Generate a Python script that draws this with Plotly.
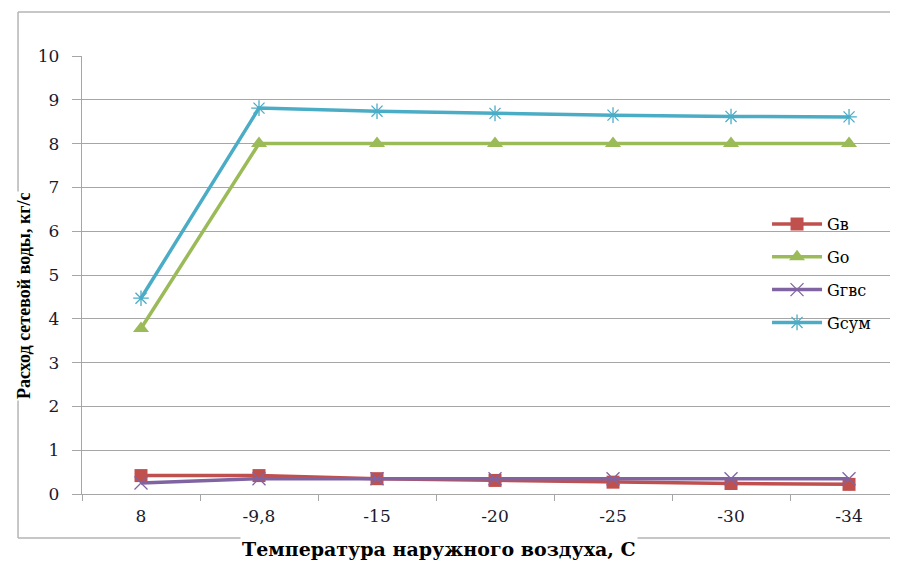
import plotly.graph_objects as go

categories = ["8", "-9,8", "-15", "-20", "-25", "-30", "-34"]
g_v = [0.42, 0.42, 0.35, 0.31, 0.27, 0.24, 0.22]
g_o = [3.78, 8.0, 8.0, 8.0, 8.0, 8.0, 8.0]
g_gvs = [0.25, 0.35, 0.35, 0.35, 0.35, 0.35, 0.35]
g_sum = [4.47, 8.81, 8.74, 8.69, 8.65, 8.62, 8.61]

series = [
    ("Gв", g_v, "#C0504D", dict(symbol="square", size=13)),
    ("Go", g_o, "#9BBB59", dict(symbol="triangle-up", size=14)),
    ("Gгвс", g_gvs, "#8064A2", dict(symbol="x-thin-open", size=13, line=dict(width=1.3, color="#8064A2"))),
    ("Gсум", g_sum, "#4BACC6", dict(symbol="asterisk-open", size=13, line=dict(width=1.3, color="#4BACC6"))),
]

fig = go.Figure()
for i, (name, vals, color, mk) in enumerate(series):
    fig.add_trace(go.Scatter(
        x=categories, y=vals, name=name, mode="lines+markers",
        line=dict(color=color, width=3.5),
        marker=dict(color=color, **mk),
        legendgroup=name,
    ))

tick_font = "DejaVu Serif"
title_font = "Liberation Serif"
fig.update_layout(
    width=890, height=553,
    margin=dict(l=74, r=0, t=48, b=67),
    paper_bgcolor="white", plot_bgcolor="white",
    font=dict(family=tick_font, size=14, color="#1a1a2e"),
    showlegend=True,
    legend=dict(x=0.8395, y=0.655, xanchor="left", yanchor="top",
                font=dict(family=tick_font, size=16, color="#000"),
                tracegroupgap=9, itemwidth=50, bgcolor="rgba(0,0,0,0)"),
    xaxis=dict(type="category", range=[-0.5, 6.415], showgrid=False,
               showline=True, linecolor="#A6A6A6", linewidth=1.3,
               ticks="outside", tickson="boundaries", ticklen=6, tickcolor="#A6A6A6",
               ticklabelstandoff=6,
               tickfont=dict(family=tick_font, size=17, color="#1a1a2e")),
    yaxis=dict(range=[0, 10], dtick=1, showgrid=True, gridcolor="#A6A6A6", gridwidth=1,
               showline=True, linecolor="#A6A6A6", linewidth=1.3,
               ticks="outside", ticklen=9, tickcolor="#A6A6A6", zeroline=False,
               ticklabelstandoff=9,
               tickfont=dict(family=tick_font, size=17, color="#1a1a2e")),
)

# outer chart frame (left, top, bottom edges; right edge lies outside the picture)
frame = dict(xref="paper", yref="paper", line=dict(color="#B5B5B5", width=1.5), layer="below")
fig.add_shape(type="line", x0=-0.0784, x1=-0.0784, y0=-0.1005, y1=1.1005, **frame)
fig.add_shape(type="line", x0=-0.0784, x1=1.0, y0=1.1005, y1=1.1005, **frame)
fig.add_shape(type="line", x0=-0.0784, x1=1.0, y0=-0.1005, y1=-0.1005, **frame)

fig.add_annotation(text="<b>Расход сетевой воды, кг/с</b>", xref="paper", yref="paper",
                   x=-0.0711, y=0.452, xanchor="center", yanchor="middle",
                   textangle=-90, showarrow=False,
                   font=dict(family=title_font, size=18, color="#000"),
                   bgcolor="white")
fig.add_annotation(text="<b>Температура наружного воздуха, С</b>", xref="paper", yref="paper",
                   x=0.4375, y=-0.1256, xanchor="center", yanchor="middle",
                   showarrow=False,
                   font=dict(family=tick_font, size=19, color="#000"),
                   bgcolor="white")

fig.write_html("out.html")
